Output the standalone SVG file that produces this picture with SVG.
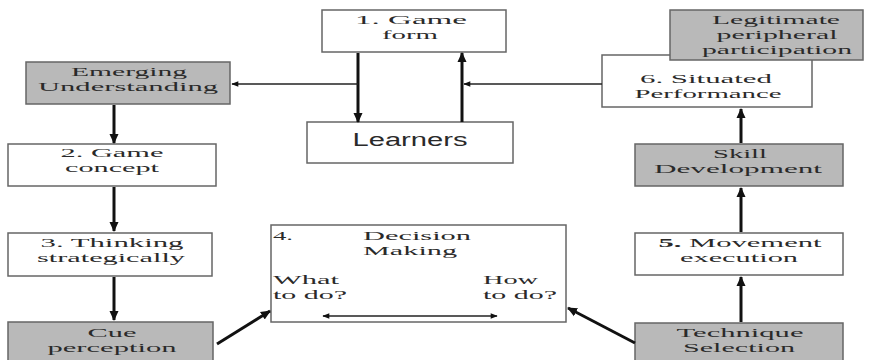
<svg xmlns="http://www.w3.org/2000/svg" width="871" height="360" viewBox="0 0 871 360">
<style>
.box{fill:#ffffff;stroke:#666666;stroke-width:1.5}
.gray{fill:#b9b9b9;stroke:#666666;stroke-width:1.5}
text{font-family:"Liberation Serif","Times New Roman",serif;font-size:13.5px;fill:#2a2a2a}
.c{text-anchor:middle}
.sans{font-family:"Liberation Sans",Arial,sans-serif;font-size:18px}
.thick{stroke:#111;stroke-width:3;fill:none}
.thin{stroke:#222;stroke-width:1.6;fill:none}
</style>
<defs>
<marker id="ah" markerUnits="userSpaceOnUse" viewBox="0 0 10 10" refX="9" refY="5" markerWidth="10" markerHeight="10" orient="auto-start-reverse">
<path d="M0,0.5 L10,5 L0,9.5 Z" fill="#111"/>
</marker>
<marker id="ahs" markerUnits="userSpaceOnUse" viewBox="0 0 10 10" refX="9" refY="5" markerWidth="8" markerHeight="7" orient="auto-start-reverse">
<path d="M0,1 L10,5 L0,9 Z" fill="#111"/>
</marker>
</defs>
<rect width="871" height="360" fill="#ffffff"/>

<g id="game-form">
<rect class="box" x="322" y="10" width="184" height="42"/>
<text class="c" x="411" y="24" textLength="112" lengthAdjust="spacingAndGlyphs">1.  Game</text>
<text class="c" x="410" y="39" textLength="56" lengthAdjust="spacingAndGlyphs">form</text>
</g>

<g id="learners">
<rect class="box" x="307" y="122" width="206" height="41"/>
<text class="c sans" x="410" y="146" textLength="115" lengthAdjust="spacingAndGlyphs">Learners</text>
</g>

<g id="emerging-understanding">
<rect class="gray" x="26" y="62" width="204" height="42"/>
<text class="c" x="129" y="76" textLength="116" lengthAdjust="spacingAndGlyphs">Emerging</text>
<text class="c" x="128" y="91" textLength="180" lengthAdjust="spacingAndGlyphs">Understanding</text>
</g>

<g id="game-concept">
<rect class="box" x="8" y="144" width="208" height="42"/>
<text class="c" x="112" y="157" textLength="103" lengthAdjust="spacingAndGlyphs">2. Game</text>
<text class="c" x="112" y="172" textLength="94" lengthAdjust="spacingAndGlyphs">concept</text>
</g>

<g id="thinking-strategically">
<rect class="box" x="8" y="233" width="204" height="43"/>
<text class="c" x="112" y="247" textLength="143" lengthAdjust="spacingAndGlyphs">3. Thinking</text>
<text class="c" x="111" y="262" textLength="148" lengthAdjust="spacingAndGlyphs">strategically</text>
</g>

<g id="cue-perception">
<rect class="gray" x="8" y="322" width="205" height="45"/>
<text class="c" x="112" y="337" textLength="49" lengthAdjust="spacingAndGlyphs">Cue</text>
<text class="c" x="112" y="352" textLength="129" lengthAdjust="spacingAndGlyphs">perception</text>
</g>

<g id="decision-making">
<rect class="box" x="271" y="225" width="295" height="97"/>
<text x="273" y="240" textLength="20" lengthAdjust="spacingAndGlyphs">4.</text>
<text x="363" y="240" textLength="108" lengthAdjust="spacingAndGlyphs">Decision</text>
<text x="363" y="255" textLength="94" lengthAdjust="spacingAndGlyphs">Making</text>
<text x="273" y="284" textLength="66" lengthAdjust="spacingAndGlyphs">What</text>
<text x="273" y="299" textLength="74" lengthAdjust="spacingAndGlyphs">to do?</text>
<text x="483" y="284" textLength="55" lengthAdjust="spacingAndGlyphs">How</text>
<text x="483" y="299" textLength="74" lengthAdjust="spacingAndGlyphs">to do?</text>
</g>

<g id="situated-performance">
<rect class="box" x="602" y="55" width="210" height="52"/>
<text class="c" x="706" y="83" textLength="132" lengthAdjust="spacingAndGlyphs">6. Situated</text>
<text class="c" x="708" y="98" textLength="147" lengthAdjust="spacingAndGlyphs">Performance</text>
</g>

<g id="legitimate-peripheral-participation">
<rect class="gray" x="670" y="10" width="193" height="50"/>
<text class="c" x="776" y="24" textLength="128" lengthAdjust="spacingAndGlyphs">Legitimate</text>
<text class="c" x="777" y="39" textLength="121" lengthAdjust="spacingAndGlyphs">peripheral</text>
<text class="c" x="777" y="54" textLength="150" lengthAdjust="spacingAndGlyphs">participation</text>
</g>

<g id="skill-development">
<rect class="gray" x="635" y="144" width="208" height="42"/>
<text class="c" x="740" y="158" textLength="54" lengthAdjust="spacingAndGlyphs">Skill</text>
<text class="c" x="738" y="173" textLength="168" lengthAdjust="spacingAndGlyphs">Development</text>
</g>

<g id="movement-execution">
<rect class="box" x="635" y="233" width="208" height="42"/>
<text class="c" x="740" y="247" textLength="163" lengthAdjust="spacingAndGlyphs" font-weight="bold">5. <tspan font-weight="normal">Movement</tspan></text>
<text class="c" x="739" y="262" textLength="118" lengthAdjust="spacingAndGlyphs">execution</text>
</g>

<g id="technique-selection">
<rect class="gray" x="635" y="323" width="208" height="44"/>
<text class="c" x="740" y="337" textLength="127" lengthAdjust="spacingAndGlyphs">Technique</text>
<text class="c" x="739" y="352" textLength="112" lengthAdjust="spacingAndGlyphs">Selection</text>
</g>

<g id="connectors">
<line class="thick" x1="358" y1="53" x2="358" y2="122" marker-end="url(#ah)"/>
<line class="thick" x1="462" y1="122" x2="462" y2="53" marker-end="url(#ah)"/>
<line class="thin" x1="358" y1="84" x2="232" y2="84" marker-end="url(#ahs)"/>
<line class="thin" x1="602" y1="84" x2="464" y2="84" marker-end="url(#ahs)"/>
<line class="thick" x1="114" y1="105" x2="114" y2="143" marker-end="url(#ah)"/>
<line class="thick" x1="114" y1="187" x2="114" y2="231" marker-end="url(#ah)"/>
<line class="thick" x1="114" y1="277" x2="114" y2="320" marker-end="url(#ah)"/>
<line class="thick" x1="217" y1="344" x2="270" y2="311" marker-end="url(#ah)"/>
<line class="thick" x1="635" y1="343" x2="568" y2="308" marker-end="url(#ah)"/>
<line class="thick" x1="741" y1="322" x2="741" y2="277" marker-end="url(#ah)"/>
<line class="thick" x1="741" y1="232" x2="741" y2="188" marker-end="url(#ah)"/>
<line class="thick" x1="741" y1="143" x2="741" y2="109" marker-end="url(#ah)"/>
<line class="thin" x1="323" y1="316" x2="497" y2="316" marker-start="url(#ahs)" marker-end="url(#ahs)"/>
</g>
</svg>
